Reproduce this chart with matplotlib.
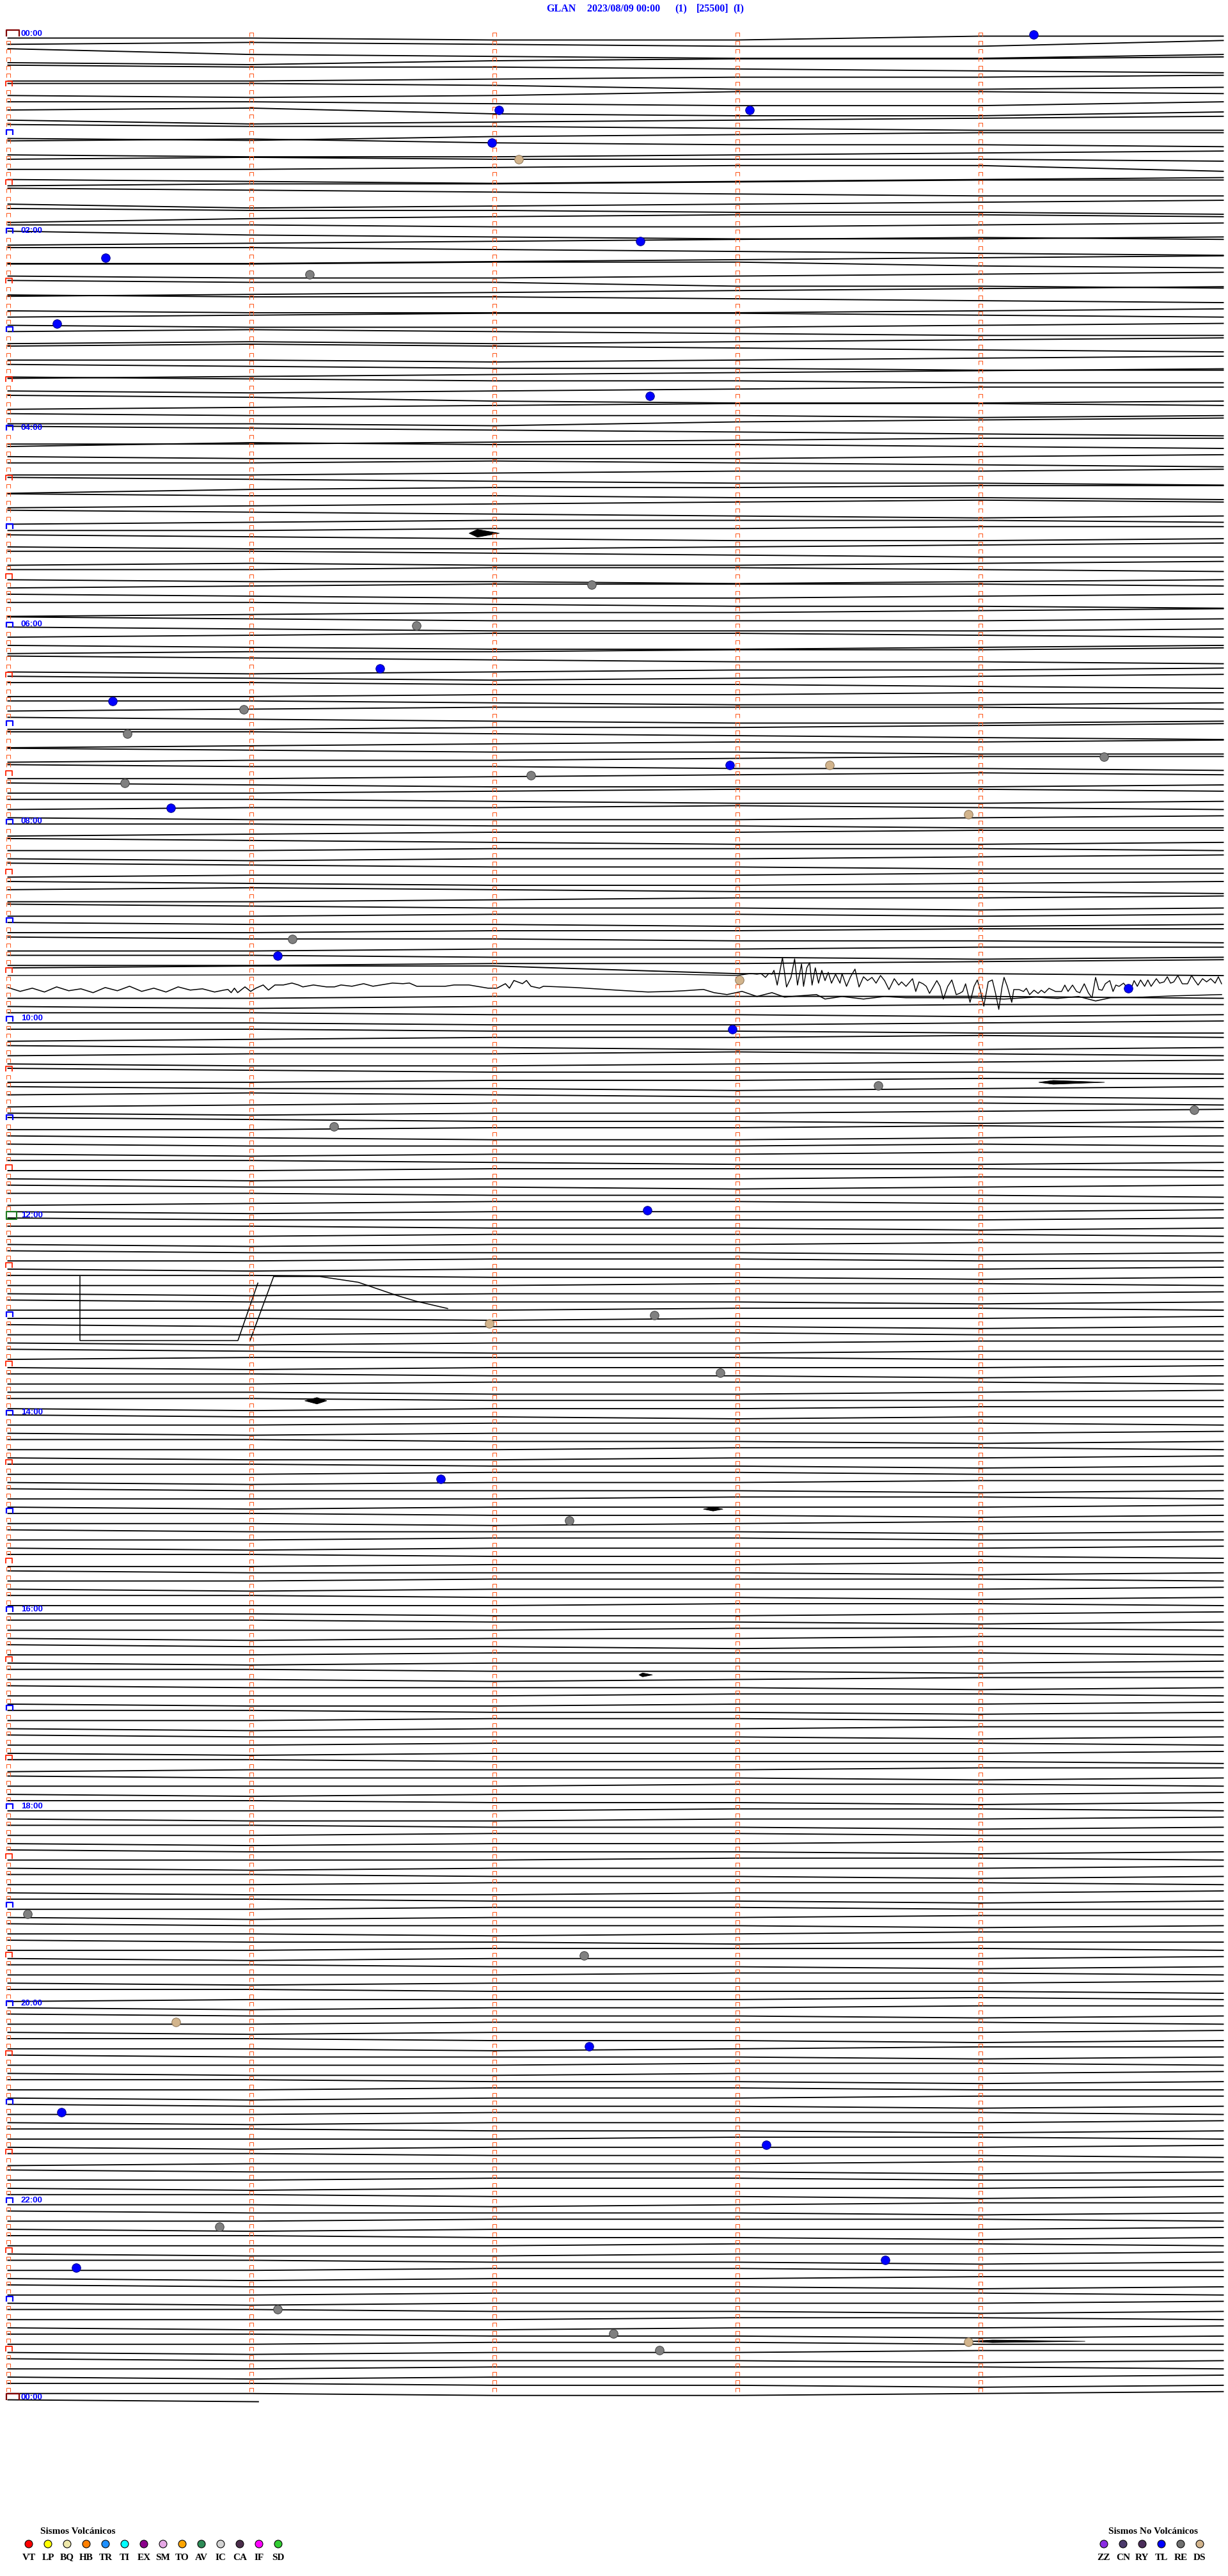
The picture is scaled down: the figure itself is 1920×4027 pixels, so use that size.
import numpy as np
import matplotlib.pyplot as plt
from matplotlib.path import Path

# helicorder GLAN 2023/08/09, 288 lines of 5 minutes
ROW_PX = 12.83  # pixel spacing between two 5-minute lines
N_ROWS = 288

title_parts = ["GLAN", "2023/08/09 00:00", "(1)", "[25500]", "(I)"]
hour_labels = ["00:00", "02:00", "04:00", "06:00", "08:00", "10:00", "12:00",
               "14:00", "16:00", "18:00", "20:00", "22:00", "00:00"]

# slow drift of each line, value at minute 0..5, one code per line, 12 lines per hour
# digit d -> offset (d - 5) * DRIFT_STEP px (down is positive)
DRIFT_STEP = 3
drift_codes = [
    "556644 434552 256775 564332 233456 665443 334665 565334 445664 436775 576543 344566",
    "675433 324556 677654 434445 554336 678765 544322 234566 687654 455667 754334 445543",
    "356776 654323 334567 776543 332245 566543 344667 765432 233456 677765 543345 566654",
    "434566 656543 323456 667654 456677 765432 234455 565433 346776 654334 455565 556432",
    "234567 776544 423345 566654 443456 665443 345667 754433 344556 654323 345676 654445",
    "554433 345665 566543 334566 656654 443345 566765 543334 456654 445667 765543 345554",
    "456665 543345 567765 544332 234556 676554 456543 334456 665544 445665 543334 456776",
    "665543 334567 765443 345566 655433 344556 665434 456665 554334 445665 544345 566654",
    "445566 654433 345665 554445 565543 345566 655544 456654 434556 665443 345565 554454",
    "455665 554433 344556 665544 445565 554432 211556 654444 445555 554445 565544 445565",
    "556654 445566 654434 455665 544345 566543 345556 665544 455654 434556 654445 565543",
    "345565 554434 456654 455545 565544 445665 554445 565544 455654 445556 654455 565554",
    "455554 445565 554445 565544 455565 554455 565554 445565 555445 565554 455565 555445",
    "556554 455565 554455 565544 456655 544455 565554 445565 554445 556654 445555 565544",
    "455655 554445 565554 445565 555445 566554 445565 554455 565544 455565 555445 565554",
    "445565 556544 455565 554455 565554 445556 665544 455565 554445 565554 445565 555445",
    "556654 445565 555445 565544 455655 554445 565554 445565 556544 455565 555445 566554",
    "445565 554455 565544 455565 554445 565554 445556 655544 455565 555445 565554 445565",
    "555445 566554 445565 554455 565544 455565 555445 565554 445565 554445 566554 445565",
    "554455 565544 455565 556544 455655 554445 565554 445565 555445 565554 445556 655545",
    "565544 455565 554445 565554 445565 556544 455565 555445 566554 445565 554455 565544",
    "455565 554445 565554 445565 555445 565554 445556 655544 455565 554455 565554 445565",
    "556544 455565 554445 565554 445565 555445 566554 445565 554455 565544 455565 554445",
    "565554 445565 555445 566554 445565 554455 565544 455565 554445 565554 445565 556654",
]
last_line_min = [0.0, 1.03]   # the 00:00 line of the next day is short
last_line_code = "45"

# line 115 (09:35): regional event, seconds within the line and offset in px
osc_row = 115
osc_sec = [0, 60, 120, 164, 180, 183.3, 184.9, 185.9, 187.0, 187.8, 188.6, 189.1, 189.9, 191.2,
           192.2, 193.3, 194.2, 194.9, 195.9, 196.4, 197.2, 197.9, 198.5, 199.3, 200.1, 200.9,
           201.7, 202.5, 203.3, 204.3, 205.4, 205.9, 207.0, 208.0, 209.1, 210.1, 211.2, 212.2,
           213.3, 214.3, 215.4, 216.4, 217.5, 218.8, 219.9, 220.6, 221.7, 223.3, 224.1, 224.9,
           225.9, 226.7, 227.5, 228.5, 229.3, 230.1, 230.9, 232.0, 233.0, 234.1, 234.9, 235.7,
           236.4, 237.5, 238.5, 239.3, 240.1, 240.9, 242.0, 243.0, 243.8, 244.6, 245.4, 245.9,
           246.7, 247.8, 248.3, 249.6, 250.7, 251.4, 252.2, 253.3, 254.3, 255.1, 255.9, 257.0,
           258.6, 260.1, 260.9, 261.7, 262.8, 263.8, 264.6, 265.7, 266.7, 267.6, 268.5, 269.3,
           270.1, 270.9, 272.0, 272.8, 273.5, 274.3, 275.4, 276.4, 277.2, 278.0, 278.8, 279.6,
           280.6, 281.4, 282.2, 283.5, 284.3, 285.4, 286.2, 287.0, 287.8, 288.8, 289.9, 291.2,
           292.2, 293.0, 293.8, 294.9, 295.9, 296.9, 298.0, 298.8, 299.6]
osc_off = [-10, -11, -12, -12, -10, -13, -12, -13, -7, -13, -12, -18, 5, -38,
           8, -7, -36, 5, -28, 7, -22, -30, 5, -22, 2, -18,
           -2, -15, 2, -12, 2, -13, 7, -8, -20, 8, -8, -2,
           -7, 2, -10, -2, 12, -5, 5, 0, 7, -5, 15, 0,
           3, 7, 18, 7, -2, 7, 27, 7, -3, 20, 18, 15,
           3, 32, 7, -3, 15, 38, 0, -3, 18, 43, 8, -7,
           7, 32, 12, 12, 15, 10, 20, 13, 18, 13, 17, 10,
           15, 15, 5, 15, 5, 15, 17, 3, 17, 25, -7, 12,
           13, 3, -2, 15, 5, 7, 2, 10, 12, -2, 7, -3,
           7, -3, 7, -5, 2, 0, -8, 2, 0, -10, 3, 3,
           -10, -2, 5, -5, 0, -5, 2, -8, 3]

# line 116: noisy line after the event
wig_row = 116
wig_sec = [0, 3, 6, 9, 12, 15, 18, 21, 24, 27, 30, 33, 36, 39, 42, 45, 48, 51, 53.3, 54.3,
           55.1, 55.9, 56.7, 58.5, 59.9, 61.2, 63.0, 64.3, 65.9, 68.0, 70.1, 71.7, 72.8, 75.4,
           78.6, 80.6, 82.2, 84.9, 87.8, 90.1, 94.9, 97.5, 99.1, 100.9, 103.8, 108.0, 110.1,
           113.8, 118.5, 120.7, 122.8, 123.8, 124.9, 127.0, 128.0, 129.1, 131.2, 132.2, 140,
           150, 158, 163.8, 167.0, 171.7, 174.3, 177.5, 181.2, 184.9, 188.6, 191.7, 195.4,
           199.6, 201.7, 205.9, 211.2, 216.4, 221.7, 238.0, 245.9, 253.8, 259.1, 264.3, 268.5,
           272.2, 280.1, 288.0, 299.6]
wig_off = [-4, 2, -3, 3, -5, 1, -2, 4, -4, 1, -6, 2, -3, 3, -5, 0, -2, 3, 0, -1,
           4, -3, 4, -5, 2, -3, -8, 0, -8, -8, -11, -8, -5, -8,
           -5, -5, -8, -6, -10, -6, -11, -10, -11, -6, -6, -6, -8,
           -8, -3, -3, -10, -3, -15, -10, -15, -6, -3, -6, -4,
           0, 3, 2, 1, -1, 4, 7, 2, 10, 4, 11, 9,
           7, 14, 10, 14, 10, 12, 12, 14, 11, 13, 10, 17,
           12, 11, 9, 7]

# instrument glitch around 12:35-13:10 (minute, line position)
glitch_a_min = [0.296, 0.296, 0.946, 1.028]
glitch_a_row = [150.9, 158.7, 158.7, 151.7]
glitch_b_min = [0.996, 1.093, 1.283, 1.441, 1.599, 1.678, 1.809]
glitch_b_row = [158.7, 150.9, 150.9, 151.6, 153.2, 153.9, 154.8]

# small local events drawn as spindles: line, start / peak / end minute, amplitude px
burst_row = [60.3, 127.2, 166.0, 179.2, 199.4, 280.6]
burst_t0 = [1.896, 4.24, 1.22, 2.86, 2.595, 3.95]
burst_tpk = [1.93, 4.30, 1.27, 2.90, 2.61, 4.05]
burst_t1 = [2.02, 4.51, 1.31, 2.94, 2.65, 4.43]
burst_amp = [6, 3, 5, 3, 3, 2]

# classified events (minute in line, line position, type)
event_min = [4.22, 2.02, 3.05, 1.99, 2.10, 2.60, 0.40, 1.24, 0.20, 2.64,
             2.40, 1.68, 1.53, 0.43, 0.97, 0.49, 2.97, 3.38, 4.51, 2.15,
             0.48, 0.67, 3.95, 1.17, 1.11, 3.01, 4.61, 2.98, 3.58, 4.88,
             1.34, 2.63, 2.66, 1.98, 2.93, 1.78, 2.31, 0.08, 2.37, 0.69,
             2.39, 0.22, 3.12, 0.87, 3.61, 0.28, 1.11, 2.49, 2.68, 3.95]
event_row = [-0.44, 8.77, 8.77, 12.77, 14.77, 24.77, 26.77, 28.78, 34.78, 43.58,
             66.59, 71.59, 76.8, 80.8, 81.8, 84.8, 88.6, 88.6, 87.6, 89.8,
             90.8, 93.8, 94.6, 109.8, 111.8, 114.8, 115.8, 120.8, 127.6, 130.6,
             132.6, 142.8, 155.6, 156.6, 162.6, 175.6, 180.6, 228.6, 233.6, 241.7,
             244.7, 252.7, 256.7, 266.7, 270.7, 271.7, 276.7, 279.7, 281.7, 280.7]
event_type = ["TL", "TL", "TL", "TL", "DS", "TL", "TL", "RE", "TL", "TL",
              "RE", "RE", "TL", "TL", "RE", "RE", "TL", "DS", "RE", "RE",
              "RE", "TL", "DS", "RE", "TL", "DS", "TL", "TL", "RE", "RE",
              "RE", "TL", "RE", "DS", "RE", "TL", "RE", "RE", "RE", "DS",
              "TL", "TL", "TL", "RE", "TL", "TL", "RE", "RE", "RE", "DS"]

volc_labels = ["VT", "LP", "BQ", "HB", "TR", "TI", "EX", "SM", "TO", "AV", "IC", "CA", "IF", "SD"]
volc_colors = ["#FF0000", "#FFFF00", "#EEE8AA", "#FF8000", "#1E90FF", "#00FFFF", "#8B008B",
               "#E6A8E6", "#FFA500", "#2E8B57", "#D3D3D3", "#4B2D4B", "#FF00FF", "#32CD32"]
nonvolc_labels = ["ZZ", "CN", "RY", "TL", "RE", "DS"]
nonvolc_colors = ["#8A2BE2", "#4B3A6B", "#4B2D5A", "#0000FF", "#707070", "#D2B48C"]

type_color = dict(zip(nonvolc_labels, nonvolc_colors))
type_color["RE"] = "#808080"
type_edge = {"TL": "#00008B", "RE": "#404040", "DS": "#8B7355"}

ORANGE = "#FF5A1E"
W, H = 1920, 4027


def cap_path(w, h, closed=False):
    verts = [(-w / 2, -h / 2), (-w / 2, h / 2), (w / 2, h / 2), (w / 2, -h / 2)]
    codes = [Path.MOVETO, Path.LINETO, Path.LINETO, Path.LINETO]
    if closed:
        verts.append((-w / 2, -h / 2))
        codes.append(Path.CLOSEPOLY)
    return Path(verts, codes)


fig = plt.figure(figsize=(W / 100, H / 100), dpi=100)
ax = fig.add_axes([0, 0, 1, 1])
# x in minutes (0..5 over 12.5..1912.5 px), y in line number (line 0 at 59.5 px)
ax.set_xlim(-12.5 / 380, (W - 12.5) / 380)
ax.set_ylim((H - 59.5) / ROW_PX, -59.5 / ROW_PX)
ax.axis("off")

TRACE_LW = 1.35

# traces
codes = " ".join(drift_codes).split()
minutes = np.arange(6)
for r, code in enumerate(codes):
    if r in (osc_row, wig_row):
        continue
    off = (np.array([int(c) for c in code]) - 5) * DRIFT_STEP
    ax.plot(minutes, r + off / ROW_PX, color="black", lw=TRACE_LW, zorder=2)
off = (np.array([int(c) for c in last_line_code]) - 5) * DRIFT_STEP
ax.plot(last_line_min, N_ROWS + off / ROW_PX, color="black", lw=TRACE_LW, zorder=2)

osc_t = np.array(osc_sec) / 60
ax.plot(osc_t, osc_row + np.array(osc_off) / ROW_PX, color="black", lw=1.0, zorder=2)
wig_t = np.array(wig_sec) / 60
ax.plot(wig_t, wig_row + np.array(wig_off) / ROW_PX, color="black", lw=1.1, zorder=2)

ax.plot(glitch_a_min, glitch_a_row, color="black", lw=1.1, zorder=2)
ax.plot(glitch_b_min, glitch_b_row, color="black", lw=1.1, zorder=2)

for r, t0, tp, t1, a in zip(burst_row, burst_t0, burst_tpk, burst_t1, burst_amp):
    env = np.array([0, a, 0]) / ROW_PX
    ax.fill_between([t0, tp, t1], r - env, r + env, color="black", lw=0.6, zorder=3)

# minute ticks along each line
rows = np.arange(N_ROWS)
small = cap_path(1, 1)
for m in range(1, 5):
    ax.plot(np.full(N_ROWS, m), rows - 5.3 / ROW_PX, ls="none", marker=small, ms=3.7,
            mfc="none", mec=ORANGE, mew=0.75, zorder=4)
plain = rows[(rows % 6) != 0]
ax.plot(np.zeros(len(plain)), plain - 5.3 / ROW_PX, ls="none", marker=small, ms=3.7,
        mfc="none", mec=ORANGE, mew=0.75, zorder=4)
half = rows[(rows % 12) == 6]
ax.plot(np.full(len(half), 0.005), half - 5.5 / ROW_PX, ls="none", marker=cap_path(1, 0.89),
        ms=6.5, mfc="none", mec="#FF2000", mew=1.3, zorder=4)
hours = rows[((rows % 12) == 0) & (rows != 0) & (rows != 144)]
ax.plot(np.full(len(hours), 0.0066), hours - 6.4 / ROW_PX, ls="none", marker=cap_path(1, 0.73),
        ms=7.9, mfc="none", mec="#0000FF", mew=1.6, zorder=4)
ax.plot([0.02, 0.02], [0 - 7.5 / ROW_PX, N_ROWS - 7.5 / ROW_PX], ls="none",
        marker=cap_path(1, 0.5), ms=14.4, mfc="none", mec="#800000", mew=1.6, zorder=4)
ax.plot([0.0132], [144 - 7.5 / ROW_PX], ls="none", marker=cap_path(1, 0.65, closed=True),
        ms=12.2, mfc="none", mec="#1E7B1E", mew=1.5, zorder=4)

# hour labels every 2 hours
for i, lab in enumerate(hour_labels):
    ax.text(0.053, i * 24 - 6.8 / ROW_PX, lab, color="#0000FF", fontsize=9.5,
            fontweight="bold", family="Liberation Sans", ha="left", va="center", zorder=6)

# classified events
for t, r, k in zip(event_min, event_row, event_type):
    ax.scatter(t, r, s=95, color=type_color[k], edgecolors=type_edge[k], linewidths=0.7, zorder=7)

# title and legends in pixel coordinates
lax = fig.add_axes([0, 0, 1, 1])
lax.set_xlim(0, W)
lax.set_ylim(H, 0)
lax.axis("off")
lax.patch.set_alpha(0)

title_x = [854, 918, 1055, 1089, 1146]
for x, s in zip(title_x, title_parts):
    lax.text(x, 14, s, color="#0000FF", fontsize=11.5, fontweight="bold",
             family="Liberation Serif", ha="left", va="center")

lax.text(63, 3957, "Sismos Volcánicos", fontsize=11, fontweight="bold",
         family="Liberation Serif", ha="left", va="center")
vx = 45 + 30 * np.arange(len(volc_labels))
lax.scatter(vx, np.full(len(vx), 3977), s=74, c=volc_colors, edgecolors="black", linewidths=0.8)
for x, lab in zip(vx, volc_labels):
    lax.text(x, 3998, lab, fontsize=11, fontweight="bold", family="Liberation Serif",
             ha="center", va="center")

lax.text(1733, 3957, "Sismos No Volcánicos", fontsize=11, fontweight="bold",
         family="Liberation Serif", ha="left", va="center")
nx = 1726 + 30 * np.arange(len(nonvolc_labels))
lax.scatter(nx, np.full(len(nx), 3977), s=74, c=nonvolc_colors, edgecolors="black", linewidths=0.8)
for x, lab in zip(nx, nonvolc_labels):
    lax.text(x, 3998, lab, fontsize=11, fontweight="bold", family="Liberation Serif",
             ha="center", va="center")

fig.savefig("out.png", dpi=100, facecolor="white")
